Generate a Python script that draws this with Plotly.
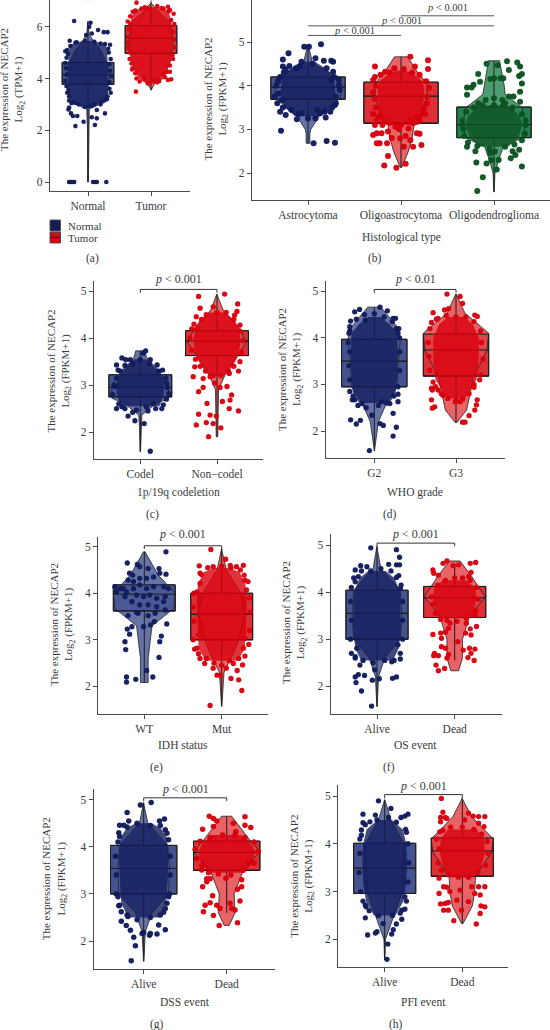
import plotly.graph_objects as go

W, H = 550, 1030
FONT = "Liberation Serif"
TXT = "#3a3a3a"
AX = "#4a4a4a"

# ---------- data: (jitter, value) points; (value, half-width) outlines; box = q1, median, q3, min, max
A_NORMAL_BOX = (3.77, 4.14, 4.62, 0.0, 6.2)
A_NORMAL_VIOLIN = [(0,.006),(2,.008),(2.8,.02),(3.0,.12),(3.3,.3),(4,.34),(4.6,.3),(5.1,.2),(5.4,.1),(5.7,.02),(6.2,.004)]
A_NORMAL_CORE = [(2.85,.08),(3.0,.22),(3.2,.31),(3.5,.33),(4,.34),(4.5,.34),(5,.33),(5.3,.3),(5.45,.1)]
A_NORMAL_PTS = [(-.22,6.22),(.04,6.15),(.02,6),(.16,5.87),(.25,5.79),(.31,5.79),(-.03,5.68),(.06,5.74),(-.29,5.46),(-.2,5.38),(.27,5.33),(-.31,2.8),(-.27,2.65),(-.24,2.55),(-.17,2.55),(-.2,2.16),(-.07,2.33),(.06,2.5),(.14,2.46),(.27,2.65),(.11,2.2),(.14,2.78),(-.26,3.04),(-.3,2.88),(-.3,0),(-.29,0),(-.27,0),(-.23,0),(-.22,0),(.08,0),(.14,0),(.11,0),(.29,0),(.34,3.6),(-.34,3.7),(.35,4.3),(-.35,4.4),(.33,5.0),(-.33,5.1),(.3,3.2),(-.3,3.3),(-.25,3.1),(.22,3.1),(-.15,3.0),(.1,3.0),
 (-.33,3.45),(-.31,3.55),(-.36,3.9),(-.34,4.15),(-.36,4.6),(-.34,4.8),(-.32,4.95),(-.36,5.05),(-.28,5.25),(-.18,5.4),(-.05,5.45),(.1,5.42),(.2,5.35),(.35,5.3),(.32,5.15),(.36,4.75),(.34,4.55),(.37,4.1),(.34,3.85),(.36,3.45),(.31,3.3),(.26,3.15),(.2,3.0),(.05,2.95),(-.05,2.9),(-.2,3.05),(-.3,3.15)]
A_TUMOR_BOX = (4.97, 5.55, 6.04, 3.55, 7.0)
A_TUMOR_VIOLIN = [(3.55,.004),(3.88,.07),(4.26,.23),(4.65,.31),(5.5,.35),(6.2,.3),(6.5,.15),(6.9,.01)]
A_TUMOR_CORE = [(3.8,.08),(4,.22),(4.3,.28),(4.7,.33),(5.5,.36),(6.2,.35),(6.6,.3),(6.75,.15)]
A_TUMOR_PTS = [(-.24,3.49),(-.23,6.93),(.27,6.77),(-.18,3.88),(-.05,3.81),(.13,3.9),(.27,3.94),(.32,3.97),(-.23,4),(.19,4.17),(.3,4.26),(-.29,4.39),(-.29,6.58),(.3,6.64),(.32,6.26),(-.31,4.58),(-.33,6.1),(.36,5.8),(-.36,5.4),(.2,6.7),(-.1,6.75),(.34,4.9),(-.33,5),
 (-.37,5.6),(-.35,5.9),(-.37,6.2),(-.33,6.4),(-.25,6.62),(-.15,6.7),(-.05,6.72),(.1,6.8),(.17,6.72),(.28,6.6),(.36,6.5),(.37,6.1),(.36,5.5),(.38,5.2),(.35,4.75),(.3,4.5),(.25,4.25),(.22,4.05),(-.25,4.2),(-.3,4.35),(-.34,4.75),(-.37,5.2),(-.1,4.0),(.05,3.95),(.1,3.85)]

B_ASTRO_BOX = (3.69, 3.96, 4.2, 2.68, 4.95)
B_ASTRO_VIOLIN = [(2.68,.02),(2.9,.02),(3.0,.03),(3.3,.12),(3.7,.34),(4,.37),(4.2,.33),(4.5,.05),(4.95,.002)]
B_ASTRO_CORE = [(3.3,.15),(3.5,.27),(3.8,.32),(4.2,.3),(4.4,.2),(4.55,.08)]
B_ASTRO_PTS = [(-.04,4.89),(.01,4.89),(.14,4.95),(-.21,4.74),(-.27,4.6),(-.24,4.37),(.25,4.57),(.27,4.55),(.08,4.63),(.17,4.57),(-.07,4.55),(-.09,4.44),(-.27,4.44),(.27,4.32),(.25,4.13),(-.28,3.67),(-.3,3.4),(-.24,3.33),(-.12,3.23),(.08,3.25),(.19,3.27),(.29,3.56),(.24,3.4),(-.29,2.97),(.06,2.68),(.2,2.73),(.29,2.69),(.13,3.37),(-.07,3.37),(-.34,4),(.34,3.9),(-.32,3.82),(.33,4.13),
 (-.32,4.1),(-.3,4.2),(-.26,4.3),(-.2,4.45),(-.13,4.4),(.05,4.5),(.2,4.4),(.28,4.2),(.33,4.0),(.3,3.75),(.3,3.6),(.26,3.5),(.18,3.4),(.1,3.45),(.0,3.25),(-.1,3.35),(-.18,3.45),(-.27,3.5),(-.33,3.6),(-.36,3.75)]
B_OLIGOA_BOX = (3.14, 3.76, 4.08, 2.13, 4.66)
B_OLIGOA_VIOLIN = [(2.13,.01),(2.5,.08),(2.8,.12),(3.1,.14),(3.4,.22),(3.75,.28),(4.05,.28),(4.3,.18),(4.66,.07)]
B_OLIGOA_CORE = [(3.1,.2),(3.3,.26),(3.6,.26),(3.9,.27),(4.1,.25),(4.3,.12),(4.35,.03)]
B_OLIGOA_PTS = [(.1,4.66),(.29,4.58),(.29,4.38),(-.28,4.44),(-.07,4.4),(.15,4.44),(-.17,4.32),(-.3,4.13),(-.18,2.17),(-.05,2.12),(.05,2.21),(-.14,2.39),(-.3,2.87),(-.26,2.91),(-.21,2.91),(-.15,2.68),(-.26,2.68),(.17,2.91),(.22,2.64),(.13,2.6),(.03,2.6),(-.01,2.79),(.28,3.75),(.25,3.48),(-.28,3.1),(-.24,3.29),(.13,3.14),(.17,3.29),(-.06,3.06),(.08,3.02),(.2,2.9),(-.23,2.68),(-.02,3.0),(-.14,2.95),(.05,2.85),(-.1,2.8),(.1,2.75),
 (-.28,4.2),(-.22,4.25),(-.27,4.0),(-.3,3.85),(-.28,3.7),(-.27,3.5),(-.3,3.35),(-.26,3.2),(-.2,3.1),(-.12,3.15),(.0,3.1),(.1,3.2),(.2,3.2),(.26,3.35),(.28,3.6),(.3,3.95),(.27,4.1),(.2,4.25),(.12,4.3),(.03,4.38),(-.12,4.3)]
B_OLIGOD_BOX = (2.81, 3.11, 3.51, 1.57, 4.57)
B_OLIGOD_VIOLIN = [(1.57,.003),(2,.01),(2.3,.05),(2.6,.1),(2.8,.3),(3.1,.34),(3.5,.3),(3.8,.12),(4,.11),(4.57,.06)]
B_OLIGOD_CORE = [(2.6,.16),(2.8,.28),(3.1,.33),(3.3,.3),(3.5,.2),(3.55,.05)]
B_OLIGOD_PTS = [(-.08,4.5),(.04,4.47),(.14,4.56),(.25,4.53),(.28,4.44),(.16,4.36),(.1,4.17),(-.17,4.27),(-.29,3.96),(-.24,3.96),(-.22,4.02),(-.15,4.09),(.3,4.27),(.27,4.22),(.3,4.05),(.28,3.86),(-.29,3.79),(.28,3.63),(.16,3.75),(.21,3.75),(.3,2.15),(-.12,1.9),(-.18,1.59),(-.19,2.24),(-.08,2.22),(.03,2.08),(.18,2.34),(.27,2.53),(.23,2.41),(-.29,2.6),(-.04,4.15),(0,4.17),(.07,4.17),(-.09,3.67),(0,3.71),(.09,3.67),(-.04,2.45),(.01,2.49),(-.17,3.6),(.12,3.6),(.33,2.9),(-.34,3.1),(.34,3.2),(.2,2.5),(-.2,2.5),
 (-.33,3.0),(-.34,3.2),(-.3,3.4),(-.22,3.5),(-.12,3.55),(.0,3.55),(.1,3.55),(.2,3.5),(.3,3.35),(.34,3.1),(.33,2.9),(.3,2.75),(.22,2.65),(.12,2.6),(-.05,2.55),(-.18,2.62),(-.28,2.7),(-.32,2.85),(.05,2.3),(-.03,2.3)]

C_CODEL_BOX = (2.75, 2.95, 3.22, 1.58, 3.73)
C_CODEL_VIOLIN = [(1.58,.003),(2.1,.01),(2.36,.02),(2.6,.2),(2.72,.37),(3.04,.37),(3.2,.26),(3.39,.16),(3.6,.08),(3.73,.06)]
C_CODEL_CORE = [(2.55,.27),(2.8,.33),(3.1,.33),(3.3,.28),(3.45,.18),(3.55,.08)]
C_CODEL_PTS = [(.07,3.73),(.04,3.68),(-.24,3.58),(-.19,3.54),(-.31,3.43),(-.13,3.54),(.13,3.54),(.22,3.43),(.29,3.32),(-.29,3.32),(.34,3.04),(-.33,2.97),(.37,2.82),(-.31,2.5),(-.16,2.34),(-.07,2.24),(.05,2.18),(.13,1.59),(.28,2.5),(.17,2.61),(-.24,2.54),(-.05,2.47),(.08,2.54),
 (-.36,2.8),(-.34,3.0),(-.31,3.15),(-.26,3.3),(-.2,3.42),(-.1,3.45),(.0,3.55),(.12,3.45),(.24,3.3),(.33,3.15),(.35,2.95),(.34,2.7),(.3,2.58),(.2,2.5),(.1,2.45),(-.1,2.42),(-.2,2.5),(-.28,2.6)]
C_NON_BOX = (3.63, 3.94, 4.16, 1.9, 4.94)
C_NON_VIOLIN = [(1.9,.01),(2.9,.02),(3.2,.1),(3.6,.25),(3.9,.38),(4.2,.3),(4.6,.08),(4.94,.003)]
C_NON_CORE = [(3.2,.1),(3.4,.22),(3.6,.29),(3.9,.33),(4.2,.31),(4.4,.24),(4.55,.1)]
C_NON_PTS = [(-.24,4.89),(.1,4.94),(.27,4.73),(-.22,4.64),(-.27,4.46),(-.05,4.67),(.26,4.57),(.23,4.49),(.3,4.28),(-.31,3.18),(-.29,3.39),(.28,3.3),(.16,3.25),(-.24,2.86),(-.18,2.95),(-.13,2.61),(-.24,2.38),(-.27,2.15),(-.14,2.2),(-.11,1.9),(-.09,2.36),(-.05,2.18),(-.01,2.34),(.05,2.09),(.16,2.5),(.17,2.68),(.19,2.79),(.07,2.65),(.28,2.45),(.13,2.97),(.04,2.95),(-.03,3.04),(-.18,3.14),(-.09,3.18),
 (-.35,4.0),(-.33,4.2),(-.3,4.3),(-.26,4.2),(-.2,4.4),(-.14,4.5),(.0,4.55),(.12,4.55),(.22,4.4),(.3,4.15),(.34,3.95),(.32,3.7),(.3,3.5),(.22,3.4),(.15,3.3),(.05,3.2),(-.05,3.2),(-.15,3.3),(-.22,3.4),(-.28,3.55),(-.33,3.75)]

D_G2_BOX = (2.95, 3.5, 3.97, 1.57, 4.66)
D_G2_VIOLIN = [(1.57,.002),(2.2,.05),(2.6,.15),(2.95,.28),(3.45,.29),(4,.32),(4.24,.28),(4.66,.08)]
D_G2_CORE = [(2.6,.2),(2.8,.28),(3.2,.3),(3.7,.31),(4.1,.3),(4.3,.2),(4.45,.08)]
D_G2_PTS = [(.07,4.66),(-.18,4.61),(-.24,4.56),(.16,4.58),(-.11,4.38),(.23,4.42),(.26,4.42),(-.29,4.36),(-.3,4.24),(.27,4.2),(.29,4.1),(-.31,4.1),(-.27,2.67),(-.24,2.67),(.29,2.79),(.29,2.63),(.19,2.59),(.23,2.38),(-.29,2.24),(-.22,2.15),(-.17,2.23),(-.06,1.58),(.07,2.16),(.11,2.12),(.27,2.08),(.23,1.89),(-.15,2.59),(-.03,2.34),(.09,2.63),
 (-.32,3.9),(-.3,3.7),(-.31,3.4),(-.3,3.1),(-.3,2.85),(-.26,2.75),(-.2,2.55),(-.1,2.5),(.05,2.55),(.15,2.6),(.24,2.75),(.29,2.95),(.31,3.3),(.31,3.7),(.31,4.0),(.3,4.2),(.22,4.35),(.12,4.45),(.0,4.52),(-.12,4.5),(-.22,4.4),(-.3,4.15)]
D_G3_BOX = (3.18, 3.74, 4.08, 2.18, 4.94)
D_G3_VIOLIN = [(2.18,.01),(2.45,.13),(3.18,.22),(3.74,.38),(4.1,.4),(4.53,.11),(4.94,.003)]
D_G3_CORE = [(2.7,.12),(2.9,.2),(3.1,.27),(3.5,.3),(4,.3),(4.3,.22),(4.45,.1)]
D_G3_PTS = [(-.11,4.94),(.05,4.89),(.08,4.74),(-.28,4.54),(-.14,4.6),(-.09,4.63),(.23,4.49),(.26,4.46),(-.3,4.33),(-.22,4.42),(-.3,2.92),(-.29,2.88),(-.3,2.67),(-.26,2.52),(-.29,2.49),(.26,2.67),(.25,2.56),(.23,2.45),(.16,2.33),(.08,2.19),(.11,2.19),(.22,2.94),(.29,3.1),(-.22,2.88),(-.16,2.77),(-.01,2.63),(.05,2.63),
 (-.32,4.2),(-.34,3.9),(-.33,3.6),(-.32,3.3),(-.28,3.05),(-.25,2.95),(-.18,2.8),(-.1,2.7),(.0,2.65),(.08,2.68),(.16,2.8),(.22,3.0),(.3,3.2),(.33,3.55),(.31,3.9),(.3,4.15),(.22,4.35),(.12,4.45),(.0,4.45),(-.12,4.48),(-.24,4.4)]

E_WT_BOX = (3.62, 3.98, 4.18, 2.08, 4.89)
E_WT_VIOLIN = [(2.08,.05),(2.6,.05),(3.3,.1),(3.67,.38),(4,.4),(4.39,.18),(4.89,.01)]
E_WT_CORE = []
E_WT_PTS = [(.28,4.89),(-.22,4.65),(-.09,4.62),(-.06,4.57),(.05,4.53),(.19,4.53),(.2,4.43),(.28,4.41),(-.19,4.43),(-.15,4.39),(-.21,4.28),(-.38,4.14),(-.27,4.1),(.31,4.1),(-.21,3.52),(-.08,3.57),(.05,3.52),(.14,3.57),(.27,3.64),(.29,3.34),(.13,3.39),(.08,3.32),(-.01,3.28),(-.16,3.28),(-.22,3.23),(-.19,3.12),(-.25,2.96),(-.24,2.79),(.22,3.08),(.2,2.96),(.19,2.62),(.03,2.34),(-.23,2.2),(-.23,2.09),(-.11,2.15),(.11,2.2),(-.36,4.03),(-.23,4.03),(-.14,4.1),(-.06,4.18),(.03,4.1),(.12,4.14),(.25,4.14),(-.1,3.96),(-.01,3.93),(.07,3.96),(.16,3.89),(.25,3.82),(-.16,3.82),(-.06,3.75),(.05,3.75),(.16,3.71),(-.1,3.59),(-.25,3.93),(-.14,4.25),(.03,4.32),(.12,4.35),(-.06,4.32),(.27,3.93),(-.31,4.1)]
E_MUT_BOX = (3.0, 3.55, 4.0, 1.57, 4.95)
E_MUT_VIOLIN = [(1.57,.002),(2.3,.03),(2.6,.12),(2.9,.2),(3.55,.3),(4,.25),(4.5,.06),(4.95,.002)]
E_MUT_CORE = [(2.55,.22),(2.8,.32),(3.3,.34),(3.8,.35),(4.2,.33),(4.45,.25),(4.55,.1)]
E_MUT_PTS = [(-.14,4.94),(.05,4.73),(.11,4.6),(-.29,4.59),(.19,4.57),(.28,4.6),(.29,4.39),(.3,4.28),(-.28,4.43),(-.11,4.57),(-.28,4.21),(-.32,4.03),(.32,4.07),(-.28,2.6),(-.22,2.49),(-.11,2.39),(-.06,2.24),(-.02,2.24),(.12,2.17),(.22,2.14),(.2,2.34),(.27,2.46),(.26,1.91),(-.15,1.59),(.15,2.49),(.06,2.39),(-.32,2.82),(.28,2.82),(.3,3.03),(-.3,3.1),
 (-.36,4.0),(-.37,3.7),(-.36,3.4),(-.37,3.0),(-.35,2.8),(-.3,2.7),(-.2,2.6),(-.1,2.5),(.0,2.45),(.1,2.55),(.22,2.6),(.3,2.65),(.35,2.9),(.36,3.2),(.37,3.6),(.36,3.9),(.34,4.25),(.24,4.5),(.12,4.55),(.0,4.58),(-.18,4.55),(-.26,4.4)]

F_ALIVE_BOX = (3.0, 3.55, 4.04, 1.57, 4.97)
F_ALIVE_VIOLIN = [(1.57,.002),(2.2,.02),(2.6,.1),(3,.3),(3.5,.32),(4.04,.3),(4.5,.05),(4.97,.002)]
F_ALIVE_CORE = [(2.55,.22),(2.8,.3),(3.2,.33),(3.6,.33),(4,.32),(4.3,.24),(4.45,.12)]
F_ALIVE_PTS = [(-.08,4.94),(.25,4.9),(.29,4.74),(-.28,4.47),(-.21,4.56),(-.13,4.54),(.15,4.59),(.25,4.58),(.29,4.58),(.25,4.31),(-.24,4.33),(-.28,4.22),(.3,4.08),(-.22,2.45),(-.24,2.25),(-.28,2.2),(-.16,2.23),(-.27,2.08),(-.2,1.9),(-.07,1.58),(-.06,2.13),(.03,2.16),(.2,2.17),(.25,2.2),(.3,2.58),(.19,2.52),(-.03,2.35),(-.28,2.63),(-.26,2.81),(.27,2.88),
 (-.33,4.1),(-.34,3.8),(-.33,3.4),(-.34,3.0),(-.33,2.7),(-.28,2.6),(-.18,2.55),(-.05,2.5),(.1,2.55),(.22,2.55),(.3,2.7),(.33,3.0),(.33,3.4),(.33,3.8),(.31,4.15),(.28,4.35),(.18,4.45),(.05,4.5),(-.08,4.45),(-.2,4.45),(-.3,4.3)]
F_DEAD_BOX = (3.46, 3.88, 4.12, 2.55, 4.6)
F_DEAD_VIOLIN = [(2.33,.05),(2.6,.1),(3,.1),(3.48,.19),(3.9,.39),(4.33,.22),(4.66,.07)]
F_DEAD_CORE = [(3.45,.2),(3.6,.27),(3.9,.3),(4.1,.28),(4.25,.16)]
F_DEAD_PTS = [(-.1,4.66),(-.15,4.61),(-.02,4.56),(.05,4.58),(.2,4.61),(.27,4.63),(-.28,4.47),(-.27,4.4),(.21,4.42),(-.21,4.36),(.18,4.33),(-.28,3.1),(-.18,3.13),(-.12,3.15),(-.17,3.02),(.15,3.34),(.2,3.22),(.28,3.27),(.21,3.09),(.14,3.13),(.04,2.95),(-.26,2.7),(-.27,2.65),(-.21,2.65),(-.17,2.84),(-.12,2.81),(-.1,2.6),(-.08,2.67),(.11,2.77),(.19,2.81),(.26,2.79),(.25,2.55),(.17,2.61),(.21,2.7),(-.24,2.45),(-.21,2.33),(-.13,2.38),(-.08,3.23),(-.06,3.34),(.26,3.51),
 (-.3,3.9),(-.28,3.75),(-.25,3.55),(-.18,3.42),(-.1,3.4),(.03,3.38),(.15,3.45),(.27,3.6),(.3,3.85),(.28,4.1),(.2,4.25),(.1,4.3),(.0,4.3),(-.12,4.25),(-.22,4.15)]

G_ALIVE_BOX = (3.0, 3.54, 4.03, 1.57, 4.94)
G_ALIVE_VIOLIN = [(1.57,.002),(2.2,.02),(2.6,.1),(3,.3),(3.5,.31),(4.03,.29),(4.5,.05),(4.94,.002)]
G_ALIVE_CORE = [(2.5,.2),(2.8,.29),(3.3,.31),(3.8,.32),(4.2,.3),(4.4,.22),(4.5,.1)]
G_ALIVE_PTS = [(.09,4.94),(-.04,4.89),(-.2,4.73),(-.18,4.55),(-.29,4.46),(-.24,4.46),(.25,4.59),(.19,4.55),(.26,4.36),(.28,4.29),(-.29,4.22),(.3,2.94),(.26,2.69),(.24,2.61),(-.27,2.62),(-.19,2.52),(-.27,2.42),(-.21,2.33),(-.16,2.23),(-.12,2.08),(-.1,1.9),(-.15,1.58),(0,2.18),(.08,2.16),(.07,2.12),(.16,2.15),(.18,2.34),(.26,2.24),(-.02,2.16),(-.29,2.76),(-.31,2.94),
 (-.33,3.0),(-.33,3.4),(-.34,3.8),(-.31,4.1),(-.3,4.3),(-.2,4.42),(-.08,4.5),(.08,4.45),(.2,4.45),(.3,4.15),(.32,3.8),(.32,3.4),(.31,3.0),(.28,2.8),(.2,2.55),(.08,2.5),(-.08,2.45),(-.2,2.55),(-.3,2.75)]
G_DEAD_BOX = (3.5, 3.88, 4.12, 2.6, 4.65)
G_DEAD_VIOLIN = [(2.33,.03),(2.6,.1),(3,.09),(3.5,.2),(3.9,.4),(4.14,.28),(4.65,.06)]
G_DEAD_CORE = [(3.45,.22),(3.65,.33),(3.9,.37),(4.1,.3),(4.25,.18)]
G_DEAD_PTS = [(-.21,4.65),(-.16,4.6),(-.12,4.55),(.22,4.64),(.22,4.46),(.29,4.41),(-.29,4.37),(-.16,4.43),(.11,4.32),(.08,4.5),(-.3,3.51),(-.24,3.32),(-.2,3.32),(-.24,3.26),(-.29,3.15),(.18,3.3),(.18,3.15),(.13,3.1),(-.01,3.33),(-.17,2.96),(.16,2.85),(-.26,2.76),(-.2,2.81),(-.12,2.76),(-.08,2.69),(-.28,2.62),(-.16,2.54),(-.09,2.33),(.13,2.39),(.04,2.8),(.06,2.69),(.1,2.66),(.26,3.65),(.3,3.68),
 (-.38,3.95),(-.36,3.75),(-.3,3.6),(-.22,3.45),(-.1,3.42),(.05,3.4),(.2,3.5),(.33,3.65),(.38,3.9),(.33,4.1),(.22,4.2),(.1,4.25),(-.05,4.25),(-.2,4.2),(-.32,4.12)]

H_ALIVE_BOX = (2.96, 3.49, 4.01, 1.57, 4.92)
H_ALIVE_VIOLIN = [(1.57,.002),(2,.01),(2.5,.12),(2.96,.22),(4,.25),(4.5,.08),(4.92,.002)]
H_ALIVE_CORE = [(2.5,.15),(2.8,.26),(3.2,.3),(3.6,.31),(4,.3),(4.3,.25),(4.5,.1)]
H_ALIVE_PTS = [(-.08,4.9),(.08,4.74),(-.28,4.62),(-.12,4.6),(.3,4.62),(.26,4.58),(.21,4.55),(-.28,4.44),(-.19,4.46),(-.3,4.29),(.28,4.24),(-.3,4.18),(-.25,2.72),(-.24,2.68),(.26,2.63),(.22,2.61),(.22,2.42),(.15,2.32),(-.25,2.45),(-.22,2.09),(-.1,2.16),(-.12,2.13),(.11,2.2),(.09,2.11),(.04,1.9),(.03,1.58),(-.02,2.33),(.26,2.89),
 (-.32,4.1),(-.32,3.8),(-.33,3.4),(-.31,3.0),(-.28,2.8),(-.2,2.6),(-.08,2.5),(.1,2.5),(.2,2.55),(.28,2.8),(.3,3.2),(.31,3.6),(.3,4.0),(.27,4.3),(.15,4.45),(.05,4.55),(-.1,4.5),(-.25,4.4)]
H_DEAD_BOX = (3.32, 3.85, 4.12, 2.33, 4.95)
H_DEAD_VIOLIN = [(2.33,.01),(2.7,.13),(3,.16),(3.31,.17),(3.83,.38),(4.1,.4),(4.57,.12),(4.95,.002)]
H_DEAD_CORE = [(3.3,.15),(3.5,.26),(3.8,.31),(4.1,.3),(4.3,.2)]
H_DEAD_PTS = [(-.27,4.95),(-.25,4.66),(-.22,4.55),(-.28,4.55),(-.28,4.46),(-.2,4.53),(.08,4.64),(.14,4.58),(.21,4.57),(.29,4.57),(.03,4.5),(.28,4.36),(.21,4.43),(-.29,4.25),(-.3,3.28),(-.24,3.1),(-.2,3.09),(-.3,2.96),(-.16,3),(.29,3.1),(.21,3.1),(.16,2.96),(.12,3.1),(.23,2.93),(-.28,2.74),(-.22,2.75),(-.18,2.77),(-.24,2.61),(-.18,2.61),(-.11,2.39),(.18,2.32),(.23,2.54),(.29,2.68),(.24,2.7),(-.01,2.61),(.08,2.79),(-.07,2.82),(-.03,3.03),
 (-.33,4.1),(-.3,3.9),(-.31,3.6),(-.27,3.45),(-.18,3.35),(-.05,3.3),(.08,3.3),(.2,3.4),(.3,3.55),(.33,3.8),(.32,4.05),(.25,4.2),(.15,4.3),(.0,4.35),(-.15,4.35),(-.25,4.28)]

NAVY = dict(box="#44538f", vio="#4a5a96", pt="#121c5c")
RED = dict(box="#dd2f35", vio="#e4474b", pt="#d8000c")
GREEN = dict(box="#23804f", vio="#2f8a58", pt="#0b5320")

# ---------- panels (geometry in page pixels, brackets in axis values)
PANELS = [
 dict(key="a", title="Log<sub>2</sub> (TPM+1)", xtitle=None, cap="(a)", cats=["Normal","Tumor"],
      groups=[(A_NORMAL_BOX,A_NORMAL_VIOLIN,A_NORMAL_CORE,A_NORMAL_PTS,NAVY),(A_TUMOR_BOX,A_TUMOR_VIOLIN,A_TUMOR_CORE,A_TUMOR_PTS,RED)],
      yt=[0,2,4,6], l=50,r=190,b=191,t=0, c=[88,151], y1=(0,182), y2=(6,26.7), ms=4.6, hw=.41,
      yx=13, yy=90, xt=None, capxy=(92,258), br=[(1,2,7.02,7.25,None)]),
 dict(key="b", title="Log<sub>2</sub> (FPKM+1)", xtitle="Histological type", cap="(b)", cats=["Astrocytoma","Oligoastrocytoma","Oligodendroglioma"],
      groups=[(B_ASTRO_BOX,B_ASTRO_VIOLIN,B_ASTRO_CORE,B_ASTRO_PTS,NAVY),(B_OLIGOA_BOX,B_OLIGOA_VIOLIN,B_OLIGOA_CORE,B_OLIGOA_PTS,RED),(B_OLIGOD_BOX,B_OLIGOD_VIOLIN,B_OLIGOD_CORE,B_OLIGOD_PTS,GREEN)],
      yt=[2,3,4,5], l=252,r=550,b=200,t=0, c=[308,401,493.7], y1=(2,173), y2=(5,42), ms=6, hw=.40,
      yx=215.5, yy=99, xt=(401,237), capxy=(375,258), br=[]),
 dict(key="c", title="Log<sub>2</sub> (FPKM+1)", xtitle="1p/19q codeletion", cap="(c)", cats=["Codel","Non\u2212codel"],
      groups=[(C_CODEL_BOX,C_CODEL_VIOLIN,C_CODEL_CORE,C_CODEL_PTS,NAVY),(C_NON_BOX,C_NON_VIOLIN,C_NON_CORE,C_NON_PTS,RED)],
      yt=[2,3,4,5], l=94,r=263,b=459,t=281, c=[140.3,217], y1=(2,432), y2=(5,291.3), ms=5.3, hw=.41,
      yx=58.5, yy=371, xt=(178.3,493), capxy=(152.7,514), br=[(1,2,4.97,5.04,"<i>p</i> < 0.001")], px=178, py=279),
 dict(key="d", title="Log<sub>2</sub> (FPKM+1)", xtitle="WHO grade", cap="(d)", cats=["G2","G3"],
      groups=[(D_G2_BOX,D_G2_VIOLIN,D_G2_CORE,D_G2_PTS,NAVY),(D_G3_BOX,D_G3_VIOLIN,D_G3_CORE,D_G3_PTS,RED)],
      yt=[2,3,4,5], l=325.7,r=505,b=458.3,t=281, c=[374.3,456], y1=(2,431), y2=(5,291.3), ms=5.3, hw=.40,
      yx=290, yy=370, xt=(415,493), capxy=(389.7,514), br=[(1,2,4.97,5.04,"<i>p</i> < 0.01")], px=415, py=279),
 dict(key="e", title="Log<sub>2</sub> (FPKM+1)", xtitle="IDH status", cap="(e)", cats=["WT","Mut"],
      groups=[(E_WT_BOX,E_WT_VIOLIN,E_WT_CORE,E_WT_PTS,NAVY),(E_MUT_BOX,E_MUT_VIOLIN,E_MUT_CORE,E_MUT_PTS,RED)],
      yt=[2,3,4,5], l=98.3,r=268,b=713.7,t=536.7, c=[144.3,221.7], y1=(2,686.3), y2=(5,546.7), ms=5.3, hw=.40,
      yx=62, yy=625, xt=(183,745), capxy=(156.7,767), br=[(1,2,4.95,5.02,"<i>p</i> < 0.001")], px=182.7, py=534.3),
 dict(key="f", title="Log<sub>2</sub> (FPKM+1)", xtitle="OS event", cap="(f)", cats=["Alive","Dead"],
      groups=[(F_ALIVE_BOX,F_ALIVE_VIOLIN,F_ALIVE_CORE,F_ALIVE_PTS,NAVY),(F_DEAD_BOX,F_DEAD_VIOLIN,F_DEAD_CORE,F_DEAD_PTS,RED)],
      yt=[2,3,4,5], l=330.7,r=501.7,b=714.3,t=534, c=[377,454.7], y1=(2,686.3), y2=(5,545), ms=5.3, hw=.40,
      yx=294, yy=623, xt=(415.3,745), capxy=(389,767), br=[(1,2,4.97,5.04,"<i>p</i> < 0.001")], px=415, py=534.3),
 dict(key="g", title="Log<sub>2</sub> (FPKM+1)", xtitle="DSS event", cap="(g)", cats=["Alive","Dead"],
      groups=[(G_ALIVE_BOX,G_ALIVE_VIOLIN,G_ALIVE_CORE,G_ALIVE_PTS,NAVY),(G_DEAD_BOX,G_DEAD_VIOLIN,G_DEAD_CORE,G_DEAD_PTS,RED)],
      yt=[2,3,4,5], l=93.7,r=275,b=968.7,t=789.3, c=[143.7,226.7], y1=(2,941), y2=(5,799.7), ms=5.5, hw=.40,
      yx=54.3, yy=879, xt=(185,1002), capxy=(156.7,1024), br=[(1,2,4.97,5.04,"<i>p</i> < 0.001")], px=185, py=789),
 dict(key="h", title="Log<sub>2</sub> (FPKM+1)", xtitle="PFI event", cap="(h)", cats=["Alive","Dead"],
      groups=[(H_ALIVE_BOX,H_ALIVE_VIOLIN,H_ALIVE_CORE,H_ALIVE_PTS,NAVY),(H_DEAD_BOX,H_DEAD_VIOLIN,H_DEAD_CORE,H_DEAD_PTS,RED)],
      yt=[2,3,4,5], l=338.3,r=508.3,b=967.3,t=785, c=[384.7,462.3], y1=(2,939.3), y2=(5,796), ms=5.3, hw=.40,
      yx=301.7, yy=876, xt=(423.3,1002), capxy=(395.7,1024), br=[(1,2,4.95,5.03,"<i>p</i> < 0.001")], px=423.3, py=786),
]

B_BRACKETS = [(1,2,5.15,"<i>p</i> < 0.001",1.5,5.26),(1,3,5.37,"<i>p</i> < 0.001",2,5.49),(2,3,5.6,"<i>p</i> < 0.001",2.5,5.78)]
LEGEND_NAMES = ["Normal","Tumor"]

def hexa(c, a):
    c = c.lstrip("#")
    return "rgba(%d,%d,%d,%g)" % (int(c[:2],16), int(c[2:4],16), int(c[4:],16), a)

def poly(center, outline, scale=1.0):
    ys = [o[0] for o in outline]
    hs = [o[1]*scale for o in outline]
    xs = [center+h for h in hs] + [center-h for h in reversed(hs)]
    return xs + xs[:1], ys + list(reversed(ys)) + ys[:1]

fig = go.Figure()
ann = []
shapes = []
layout = {}

def note(x, y, text, size=11, angle=0, **kw):
    ann.append(dict(xref="paper", yref="paper", x=x/W, y=1-y/H, text=text, showarrow=False,
                    font=dict(family=FONT, size=size, color=TXT), textangle=angle,
                    xanchor=kw.get("xanchor","center"), yanchor="middle", align="center"))

for n, p in enumerate(PANELS):
    sx = "" if n == 0 else str(n+1)
    xa, ya = "x"+sx, "y"+sx
    spacing = p["c"][1]-p["c"][0]
    x0 = 1 + (p["l"]-p["c"][0])/spacing
    x1 = 1 + (p["r"]-p["c"][0])/spacing
    (v1, p1), (v2, p2) = p["y1"], p["y2"]
    k = (v2-v1)/(p1-p2)
    y0 = v1 - (p["b"]-p1)*k
    yt = v2 + (p2-p["t"])*k
    common = dict(showgrid=False, zeroline=False, showline=True, linecolor=AX, linewidth=1.3, ticks="outside",
                  ticklen=4, tickwidth=1, tickcolor=AX, tickfont=dict(family=FONT, size=11.5, color=TXT))
    layout["xaxis"+sx] = dict(domain=[p["l"]/W, p["r"]/W], range=[x0, x1], anchor=ya,
                              tickvals=list(range(1, len(p["cats"])+1)), ticktext=p["cats"], **common)
    layout["yaxis"+sx] = dict(domain=[1-p["b"]/H, 1-p["t"]/H], range=[y0, yt], anchor=xa,
                              tickvals=p["yt"], **common)
    for i, (box, vio, core, pts, col) in enumerate(p["groups"]):
        c = i+1
        q1, med, q3, lo, hi = box
        fig.add_trace(go.Box(x=[c], q1=[q1], median=[med], q3=[q3], lowerfence=[q1], upperfence=[q3],
                             width=2*p["hw"], fillcolor=col["box"], line=dict(color="#2a2a2a", width=1),
                             xaxis=xa, yaxis=ya, showlegend=False, hoverinfo="skip", boxpoints=False))
        vx, vy = poly(c, vio)
        fig.add_trace(go.Scatter(x=vx, y=vy, mode="lines", fill="toself", fillcolor=hexa(col["vio"], .85),
                                 line=dict(color="#222222", width=.8), xaxis=xa, yaxis=ya, showlegend=False, hoverinfo="skip"))
        hw = p["hw"]
        bx = [c-hw, c+hw, None, c-hw, c+hw, None, c-hw, c+hw, c+hw, c-hw, c-hw, None, c, c, None, c, c]
        by = [med, med, None, q1, q1, None, q3, q3, q1, q1, q3, None, lo, q1, None, q3, hi]
        fig.add_trace(go.Scatter(x=bx, y=by, mode="lines", line=dict(color="#1c1c1c", width=1),
                                 xaxis=xa, yaxis=ya, showlegend=False, hoverinfo="skip"))
        if core:
            cx, cy = poly(c, core, .93)
            fig.add_trace(go.Scatter(x=cx, y=cy, mode="lines", fill="toself", fillcolor=hexa(col["pt"], .8),
                                     line=dict(width=0, color=col["pt"]),
                                     xaxis=xa, yaxis=ya, showlegend=False, hoverinfo="skip"))
        fig.add_trace(go.Scatter(x=[c+j for j, _ in pts], y=[v for _, v in pts], mode="markers",
                                 marker=dict(color=col["pt"], size=p["ms"], opacity=.97, line=dict(width=0)),
                                 xaxis=xa, yaxis=ya, showlegend=False, cliponaxis=False,
                                 hovertemplate=p["cats"][i]+": %{y}<extra></extra>"))
    for b in p["br"]:
        a, z, drop, top, label = b
        fig.add_trace(go.Scatter(x=[a, a, z, z], y=[drop, top, top, drop], mode="lines",
                                 line=dict(color="#333333", width=1), xaxis=xa, yaxis=ya,
                                 showlegend=False, hoverinfo="skip", cliponaxis=False))
        if label:
            note(p["px"], p["py"], label, size=12)
    if p["key"] == "b":
        for a, z, v, label, tx, tv in B_BRACKETS:
            fig.add_trace(go.Scatter(x=[a, z], y=[v, v], mode="lines", line=dict(color="#555555", width=1),
                                     xaxis=xa, yaxis=ya, showlegend=False, hoverinfo="skip", cliponaxis=False))
            ann.append(dict(xref=xa, yref=ya, x=tx, y=tv, text=label, showarrow=False,
                            font=dict(family=FONT, size=10.5, color=TXT)))
    note(p["yx"], p["yy"], "The expression of NECAP2<br>"+p["title"], size=11, angle=-90)
    if p["xtitle"]:
        note(p["xt"][0], p["xt"][1], p["xtitle"], size=11.5)
    note(p["capxy"][0], p["capxy"][1], p["cap"], size=11.5)

# legend of panel (a)
for i, name in enumerate(LEGEND_NAMES):
    col = (NAVY, RED)[i]
    y0 = 220 + 12*i
    shapes.append(dict(type="rect", xref="paper", yref="paper", x0=50/W, x1=60.5/W, y0=1-y0/H, y1=1-(y0+11)/H,
                       fillcolor=col["pt"], line=dict(color="#555555", width=1)))
    shapes.append(dict(type="line", xref="paper", yref="paper", x0=50/W, x1=60.5/W, y0=1-(y0+5.5)/H, y1=1-(y0+5.5)/H,
                       line=dict(color="#222222", width=1)))
    note(66, y0+5.5, name, size=11, xanchor="left")

fig.update_layout(width=W, height=H, margin=dict(l=0, r=0, t=0, b=0), autosize=False, showlegend=False,
                  paper_bgcolor="white", plot_bgcolor="white", annotations=ann, shapes=shapes,
                  boxmode="overlay", **layout)
fig.write_html("out.html", config=dict(displayModeBar=False),
               post_script="document.body.style.margin='0';document.body.style.overflow='hidden';")
